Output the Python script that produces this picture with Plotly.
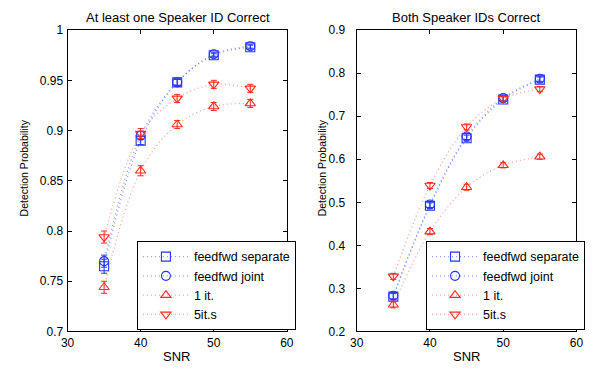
import plotly.graph_objects as go

snr = [35, 40, 45, 50, 55]

# Left panel: At least one Speaker ID Correct
left_sep = [0.765, 0.890, 0.948, 0.975, 0.983]
left_joint = [0.770, 0.895, 0.948, 0.976, 0.984]
left_1it = [0.744, 0.860, 0.906, 0.924, 0.927]
left_5it = [0.794, 0.897, 0.932, 0.946, 0.942]
left_err_sep = [0.007, 0.004, 0.003, 0.002, 0.002]
left_err_joint = [0.006, 0.004, 0.003, 0.002, 0.002]
left_err_1it = [0.006, 0.005, 0.004, 0.004, 0.004]
left_err_5it = [0.006, 0.005, 0.004, 0.004, 0.004]

# Right panel: Both Speaker IDs Correct
right_sep = [0.281, 0.492, 0.649, 0.739, 0.785]
right_joint = [0.283, 0.495, 0.653, 0.742, 0.787]
right_1it = [0.262, 0.432, 0.535, 0.586, 0.606]
right_5it = [0.328, 0.539, 0.675, 0.741, 0.763]
right_err = [0.007, 0.007, 0.007, 0.006, 0.006]

names = ["feedfwd separate", "feedfwd joint", "1 it.", "5it.s"]
symbols = ["square-open", "circle-open", "triangle-up-open", "triangle-down-open"]
BLUE = "#2233ff"
RED = "#ff2a1a"
colors = [BLUE, BLUE, RED, RED]
line_colors = ["rgba(70,90,255,0.6)", "rgba(70,90,255,0.6)", "rgba(255,80,60,0.55)", "rgba(255,80,60,0.55)"]

FONT = "Liberation Sans, Arial, Helvetica, sans-serif"

fig = go.Figure()

left_series = [left_sep, left_joint, left_1it, left_5it]
left_errs = [left_err_sep, left_err_joint, left_err_1it, left_err_5it]
right_series = [right_sep, right_joint, right_1it, right_5it]

for i in range(4):
    fig.add_trace(go.Scatter(
        x=snr, y=left_series[i], name=names[i], mode="lines+markers",
        line=dict(color=line_colors[i], width=1.3, dash="1px,3px", shape="spline"),
        marker=dict(symbol=symbols[i], size=9, color=colors[i], line=dict(width=1.1, color=colors[i])),
        error_y=dict(type="data", array=left_errs[i], color=colors[i], thickness=1, width=3),
        xaxis="x", yaxis="y", legend="legend"))
for i in range(4):
    fig.add_trace(go.Scatter(
        x=snr, y=right_series[i], name=names[i], mode="lines+markers",
        line=dict(color=line_colors[i], width=1.3, dash="1px,3px", shape="spline"),
        marker=dict(symbol=symbols[i], size=9, color=colors[i], line=dict(width=1.1, color=colors[i])),
        error_y=dict(type="data", array=right_err, color=colors[i], thickness=1, width=3),
        xaxis="x2", yaxis="y2", legend="legend2"))

axis_common = dict(showline=True, linecolor="black", linewidth=1, mirror="ticks",
                   ticks="inside", ticklen=4, tickcolor="black", showgrid=False, zeroline=False,
                   tickfont=dict(size=12, color="black", family=FONT))

ytop = 1 - 24 / 377
ybot = 1 - 337 / 377

legend_common = dict(yanchor="top", xanchor="left", bordercolor="black", borderwidth=1, bgcolor="white",
                     font=dict(size=12.5, family=FONT), tracegroupgap=0, itemwidth=46)

fig.update_layout(
    width=603, height=377,
    margin=dict(l=0, r=0, t=0, b=0),
    paper_bgcolor="white", plot_bgcolor="white",
    font=dict(family=FONT, size=12, color="black"),
    xaxis=dict(domain=[62 / 603, 286.5 / 603], range=[30, 60], dtick=10, anchor="y",
               ticklabelstandoff=0, **axis_common),
    yaxis=dict(domain=[ybot, ytop], range=[0.7, 1.0], tickvals=[0.7, 0.75, 0.8, 0.85, 0.9, 0.95, 1.0],
               ticktext=["0.7", "0.75", "0.8", "0.85", "0.9", "0.95", "1"], anchor="x",
               ticklabelstandoff=1, **axis_common),
    xaxis2=dict(domain=[358 / 603, 583 / 603], range=[30, 60], dtick=10, anchor="y2",
                ticklabelstandoff=0, **axis_common),
    yaxis2=dict(domain=[ybot, ytop], range=[0.2, 0.9], dtick=0.1, tickformat=".1f", anchor="x2",
                ticklabelstandoff=8, **axis_common),
    legend=dict(x=133 / 603, y=1 - 243 / 377, **legend_common),
    legend2=dict(x=429 / 603, y=1 - 243 / 377, **legend_common),
    annotations=[
        dict(text="At least one Speaker ID Correct", x=175 / 603, y=1 - 11 / 377, xref="paper", yref="paper",
             showarrow=False, font=dict(size=13, family=FONT), xanchor="center", yanchor="middle"),
        dict(text="Both Speaker IDs Correct", x=470 / 603, y=1 - 11 / 377, xref="paper", yref="paper",
             showarrow=False, font=dict(size=13, family=FONT), xanchor="center", yanchor="middle"),
        dict(text="SNR", x=174 / 603, y=1 - 363 / 377, xref="paper", yref="paper",
             showarrow=False, font=dict(size=13, family=FONT), xanchor="center", yanchor="middle"),
        dict(text="SNR", x=470 / 603, y=1 - 363 / 377, xref="paper", yref="paper",
             showarrow=False, font=dict(size=13, family=FONT), xanchor="center", yanchor="middle"),
        dict(text="Detection Probability", x=17 / 603, y=1 - 167 / 377, xref="paper", yref="paper",
             showarrow=False, font=dict(size=10.5, family=FONT), textangle=-90, xanchor="center", yanchor="middle"),
        dict(text="Detection Probability", x=322 / 603, y=1 - 167 / 377, xref="paper", yref="paper",
             showarrow=False, font=dict(size=10.5, family=FONT), textangle=-90, xanchor="center", yanchor="middle"),
    ],
)

fig.write_html("out.html", config={"displayModeBar": False},
               post_script="document.body.style.margin='0';document.body.style.overflow='hidden';")
